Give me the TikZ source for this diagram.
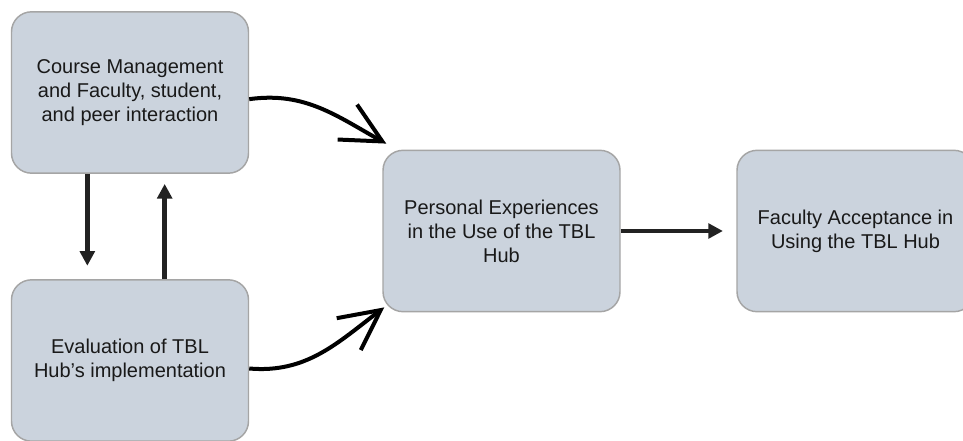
\documentclass[tikz,border=0pt]{standalone}
\usepackage{fontspec}
\setmainfont{Liberation Sans}
\usepackage{tikz}
\usetikzlibrary{
    arrows.meta,
}
\definecolor{boxfill}{RGB}{203,211,221}
\definecolor{boxline}{RGB}{165,165,165}
\definecolor{arrowdark}{RGB}{34,34,34}
\tikzset{
    stage/.style={
        draw=boxline, line width=1.1pt, fill=boxfill, rounded corners=15pt,
        minimum width=177.75pt, minimum height=121pt, align=center,
        text=black!90, font=\fontsize{15}{18}\selectfont,
    },
}

\begin{document}
\begin{tikzpicture}[
    x=0.75pt, y=0.75pt,
    flow/.style={arrowdark, line width=3.5pt, -{Triangle[length=11pt, width=11pt]}},
    merge/.style={black, line width=3pt, line cap=butt, -{Straight Barb[length=30pt, width=30pt]}},
    ]

    \useasboundingbox (0,0) rectangle (963,440);
    \clip (0,0) rectangle (963,440);

    % left column
    \node[stage] (course) at (130, 347.5) {Course Management\\and Faculty, student,\\and peer interaction};
    \node[stage] (evaluation) at (130, 79.5) {Evaluation of TBL\\Hub's implementation};

    % right of it
    \node[stage] (personal) at (501.5, 209) {Personal Experiences\\in the Use of the TBL\\Hub};
    \node[stage] (acceptance) at (855.5, 209) {Faculty Acceptance in\\Using the TBL Hub};

    % feedback loop
    \draw[flow] ([xshift=-32pt]course.south) -- ([xshift=-32pt, yshift=10pt]evaluation.north);
    \draw[flow] ([xshift=26pt]evaluation.north) -- ([xshift=26pt, yshift=-7.5pt]course.south);

    \draw[merge] ([yshift=-5pt]course.east) to[out=8, in=151] ([shift={(3pt,4.5pt)}]personal.north west);
    \draw[merge] ([yshift=-6pt]evaluation.east) to[out=-5, in=-143] ([shift={(1.5pt,3.75pt)}]personal.south west);

    \draw[flow] (personal.east) -- ([xshift=-10pt]acceptance.west);

\end{tikzpicture}
\end{document}
